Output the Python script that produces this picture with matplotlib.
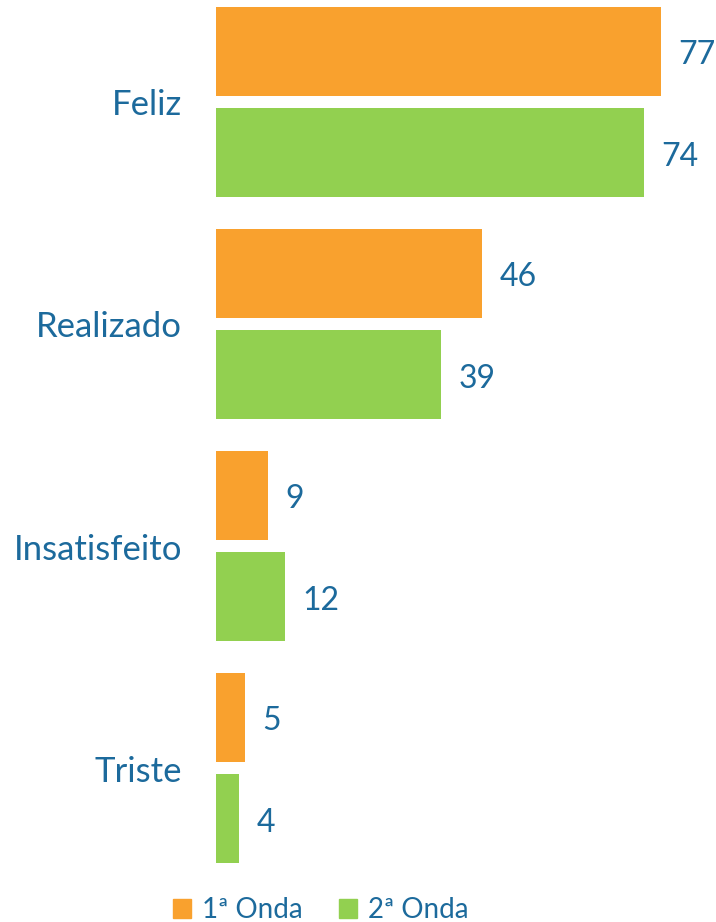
import matplotlib
matplotlib.use("Agg")
import matplotlib.pyplot as plt
from matplotlib.patches import Patch
import numpy as np

categories = ["Feliz", "Realizado", "Insatisfeito", "Triste"]
onda1 = [77, 46, 9, 5]
onda2 = [74, 39, 12, 4]
series_names = ["1ª Onda", "2ª Onda"]

ORANGE = "#F9A12E"
GREEN = "#92D050"
TEXT = "#1C6A9C"
FONT = ["Lato", "DejaVu Sans"]

W, H = 716, 922
fig = plt.figure(figsize=(W / 100, H / 100), dpi=100)
ax = fig.add_axes([216 / W, 1 - 870 / H, 1 - 216 / W, 870 / H])

y = np.arange(len(categories))
bar_h = 89 / 222
off = 50.5 / 222

ax.barh(y - off, onda1, height=bar_h, color=ORANGE)
ax.barh(y + off, onda2, height=bar_h, color=GREEN)

ax.set_xlim(0, 500 / 5.78)
ax.set_ylim(3 + (870 - 768.5) / 222, -102.5 / 222)

for yi, v in zip(y - off, onda1):
    ax.annotate(str(v), (v, yi), xytext=(12.5, -2), textcoords="offset points",
                va="center", ha="left", fontsize=23, color=TEXT, family=FONT)
for yi, v in zip(y + off, onda2):
    ax.annotate(str(v), (v, yi), xytext=(12.5, -3), textcoords="offset points",
                va="center", ha="left", fontsize=23, color=TEXT, family=FONT)

ax.set_yticks(y)
ax.set_yticklabels(categories, fontsize=25, color=TEXT, family=FONT)
ax.tick_params(axis="y", length=0, pad=24.5)
ax.set_xticks([])
for s in ax.spines.values():
    s.set_visible(False)

handles = [Patch(color=ORANGE), Patch(color=GREEN)]
leg = fig.legend(handles, series_names, loc="center",
                 bbox_to_anchor=(321 / W, 1 - 910 / H), ncol=2, frameon=False,
                 prop={"family": FONT, "size": 20}, handlelength=0.65,
                 handleheight=0.65, handletextpad=0.4, columnspacing=1.3)
for t in leg.get_texts():
    t.set_color(TEXT)

fig.savefig("out.png", dpi=100)
